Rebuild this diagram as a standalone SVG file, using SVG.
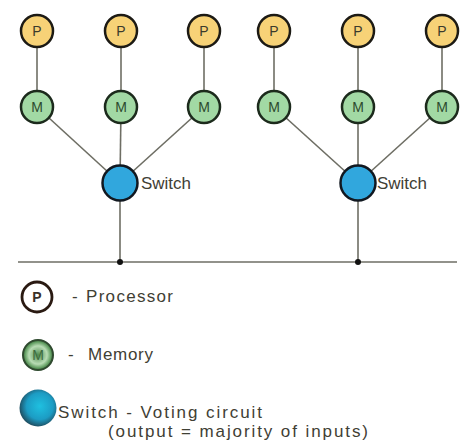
<svg xmlns="http://www.w3.org/2000/svg" width="469" height="443" viewBox="0 0 469 443">
<style>
.line{stroke:#6e6e64;stroke-width:1.6;fill:none}
.p{fill:#f7d277;stroke:#1c1a14;stroke-width:2.5}
.m{fill:#a2d9a4;stroke:#1c2a1c;stroke-width:2.5}
.sw{fill:#31a7dd;stroke:#111820;stroke-width:2.5}
.lbl{font-family:"Liberation Sans",Arial,sans-serif;font-size:14px;text-anchor:middle;fill:#3b3a2c}
.lblm{font-family:"Liberation Sans",Arial,sans-serif;font-size:14px;text-anchor:middle;fill:#2d4a2d}
.t{font-family:"Liberation Sans",Arial,sans-serif;font-size:17px;fill:#3f4034}
</style>
<defs>
<radialGradient id="swg" cx="55%" cy="45%" r="60%">
<stop offset="0" stop-color="#1fc0e0"/>
<stop offset="0.6" stop-color="#1c9cc4"/>
<stop offset="1" stop-color="#1f3f4e"/>
</radialGradient>
<radialGradient id="mg" cx="50%" cy="50%" r="55%">
<stop offset="0" stop-color="#4e8a4e"/>
<stop offset="0.55" stop-color="#b8dcb4"/>
<stop offset="0.8" stop-color="#5d9a5d"/>
<stop offset="1" stop-color="#2d4f2d"/>
</radialGradient>
</defs>
<rect width="469" height="443" fill="#ffffff"/>
<g id="connectors">
<line class="line" x1="37" y1="31" x2="37" y2="107"/>
<line class="line" x1="121" y1="31" x2="121" y2="107"/>
<line class="line" x1="204" y1="31" x2="204" y2="107"/>
<line class="line" x1="274" y1="31" x2="274" y2="107"/>
<line class="line" x1="358" y1="31" x2="358" y2="107"/>
<line class="line" x1="442" y1="31" x2="442" y2="107"/>
<line class="line" x1="37" y1="107" x2="120" y2="183"/>
<line class="line" x1="121" y1="107" x2="120" y2="183"/>
<line class="line" x1="204" y1="107" x2="120" y2="183"/>
<line class="line" x1="274" y1="107" x2="358" y2="183"/>
<line class="line" x1="358" y1="107" x2="358" y2="183"/>
<line class="line" x1="442" y1="107" x2="358" y2="183"/>
<line class="line" x1="120" y1="183" x2="120" y2="262"/>
<line class="line" x1="358" y1="183" x2="358" y2="262"/>
<line class="line" x1="18" y1="262" x2="457" y2="262"/>
<circle cx="120" cy="262" r="3" fill="#111"/>
<circle cx="358" cy="262" r="3" fill="#111"/>
</g>
<g id="p1"><circle class="p" cx="37" cy="31" r="16"/><text class="lbl" x="37" y="36">P</text></g>
<g id="p2"><circle class="p" cx="121" cy="31" r="16"/><text class="lbl" x="121" y="36">P</text></g>
<g id="p3"><circle class="p" cx="204" cy="31" r="16"/><text class="lbl" x="204" y="36">P</text></g>
<g id="p4"><circle class="p" cx="274" cy="31" r="16"/><text class="lbl" x="274" y="36">P</text></g>
<g id="p5"><circle class="p" cx="358" cy="31" r="16"/><text class="lbl" x="358" y="36">P</text></g>
<g id="p6"><circle class="p" cx="442" cy="31" r="16"/><text class="lbl" x="442" y="36">P</text></g>
<g id="m1"><circle class="m" cx="37" cy="107" r="16"/><text class="lblm" x="37" y="112">M</text></g>
<g id="m2"><circle class="m" cx="121" cy="107" r="16"/><text class="lblm" x="121" y="112">M</text></g>
<g id="m3"><circle class="m" cx="204" cy="107" r="16"/><text class="lblm" x="204" y="112">M</text></g>
<g id="m4"><circle class="m" cx="274" cy="107" r="16"/><text class="lblm" x="274" y="112">M</text></g>
<g id="m5"><circle class="m" cx="358" cy="107" r="16"/><text class="lblm" x="358" y="112">M</text></g>
<g id="m6"><circle class="m" cx="442" cy="107" r="16"/><text class="lblm" x="442" y="112">M</text></g>
<g id="switch1"><circle class="sw" cx="120" cy="183" r="17.5"/><text class="t" x="141" y="189" textLength="50" lengthAdjust="spacingAndGlyphs">Switch</text></g>
<g id="switch2"><circle class="sw" cx="358" cy="183" r="17.5"/><text class="t" x="377" y="189" textLength="50" lengthAdjust="spacingAndGlyphs">Switch</text></g>
<g id="legend-processor">
<circle cx="37" cy="297" r="15" fill="#ffffff" stroke="#2a1a12" stroke-width="2.8"/>
<text class="lbl" x="37" y="302" style="font-weight:bold;fill:#3a3028">P</text>
<text class="t" x="72" y="302">-</text>
<text class="t" x="86" y="302" textLength="87" lengthAdjust="spacing">Processor</text>
</g>
<g id="legend-memory">
<circle cx="38" cy="355" r="15" fill="url(#mg)" stroke="#2f4a2f" stroke-width="2"/>
<text class="lblm" x="38" y="360" style="fill:#3d6b3d">M</text>
<text class="t" x="68" y="360">-</text>
<text class="t" x="88" y="360" textLength="65" lengthAdjust="spacing">Memory</text>
</g>
<g id="legend-switch">
<circle cx="38" cy="408" r="18.5" fill="url(#swg)"/>
<text class="t" x="58" y="418" textLength="204" lengthAdjust="spacing">Switch - Voting circuit</text>
<text class="t" x="108" y="437" textLength="260" lengthAdjust="spacing">(output = majority of inputs)</text>
</g>
</svg>
